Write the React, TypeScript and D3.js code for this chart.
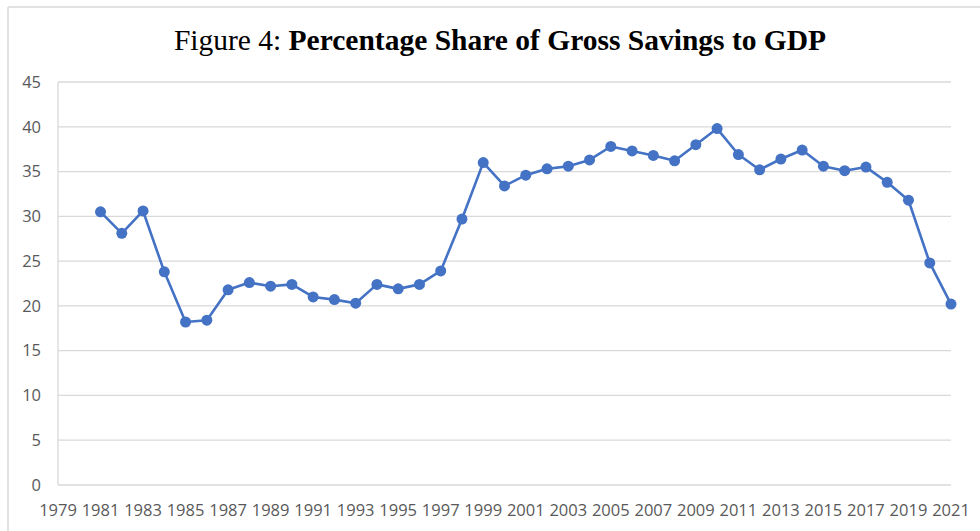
import React from "react";
import * as d3 from "d3";

const years: number[] = [
  1981, 1982, 1983, 1984, 1985, 1986, 1987, 1988, 1989, 1990,
  1991, 1992, 1993, 1994, 1995, 1996, 1997, 1998, 1999, 2000,
  2001, 2002, 2003, 2004, 2005, 2006, 2007, 2008, 2009, 2010,
  2011, 2012, 2013, 2014, 2015, 2016, 2017, 2018, 2019, 2020, 2021,
];
const savings: number[] = [
  30.5, 28.1, 30.6, 23.8, 18.2, 18.4, 21.8, 22.6, 22.2, 22.4,
  21.0, 20.7, 20.3, 22.4, 21.9, 22.4, 23.9, 29.7, 36.0, 33.4,
  34.6, 35.3, 35.6, 36.3, 37.8, 37.3, 36.8, 36.2, 38.0, 39.8,
  36.9, 35.2, 36.4, 37.4, 35.6, 35.1, 35.5, 33.8, 31.8, 24.8, 20.2,
];
const xTickLabels: number[] = [
  1979, 1981, 1983, 1985, 1987, 1989, 1991, 1993, 1995, 1997, 1999,
  2001, 2003, 2005, 2007, 2009, 2011, 2013, 2015, 2017, 2019, 2021,
];
const yTicks: number[] = [0, 5, 10, 15, 20, 25, 30, 35, 40, 45];

const W = 980;
const H = 531;
const M = { left: 58, right: 951, top: 82, bottom: 485 };

export default function App() {
  const x = d3.scaleLinear().domain([1979, 2021]).range([M.left, M.right]);
  const y = d3.scaleLinear().domain([0, 45]).range([M.bottom, M.top]);
  const line = d3
    .line<number>()
    .x((_, i) => x(years[i]))
    .y((d) => y(d));
  const axisFont = "'Open Sans', 'Liberation Sans', sans-serif";
  return (
    <svg
      width={W}
      height={H}
      style={{ position: "absolute", left: 0, top: 0, background: "#fff" }}
    >
      <rect x={0} y={0} width={W} height={H} fill="#fff" />
      {/* chart border */}
      <line x1={8} x2={W} y1={7} y2={7} stroke="#d9d9d9" strokeWidth={1.5} />
      <line x1={8} x2={8} y1={7} y2={H} stroke="#d9d9d9" strokeWidth={1.5} />
      {/* title */}
      <text
        x={500}
        y={49.5}
        textAnchor="middle"
        fontFamily="'Liberation Serif', 'Times New Roman', serif"
        fontSize={29.5}
        fill="#000"
      >
        Figure 4: <tspan fontWeight="bold">Percentage Share of Gross Savings to GDP</tspan>
      </text>
      {/* gridlines */}
      {yTicks.map((t) => (
        <line
          key={t}
          x1={M.left}
          x2={M.right}
          y1={y(t)}
          y2={y(t)}
          stroke="#d9d9d9"
          strokeWidth={1.3}
        />
      ))}
      <line x1={M.left} x2={M.left} y1={M.top} y2={M.bottom} stroke="#d9d9d9" strokeWidth={1.3} />
      {/* y labels */}
      {yTicks.map((t) => (
        <text
          key={t}
          x={41}
          y={y(t)}
          dy="0.35em"
          textAnchor="end"
          fontFamily={axisFont}
          fontSize={16.5}
          fill="#595959"
        >
          {t}
        </text>
      ))}
      {/* x labels */}
      {xTickLabels.map((t) => (
        <text
          key={t}
          x={x(t)}
          y={516}
          textAnchor="middle"
          fontFamily={axisFont}
          fontSize={16.5}
          fill="#595959"
        >
          {t}
        </text>
      ))}
      {/* series */}
      <path d={line(savings) || ""} fill="none" stroke="#4472C4" strokeWidth={2.6} strokeLinejoin="round" />
      {savings.map((v, i) => (
        <circle key={i} cx={x(years[i])} cy={y(v)} r={5.5} fill="#4472C4" />
      ))}
    </svg>
  );
}
